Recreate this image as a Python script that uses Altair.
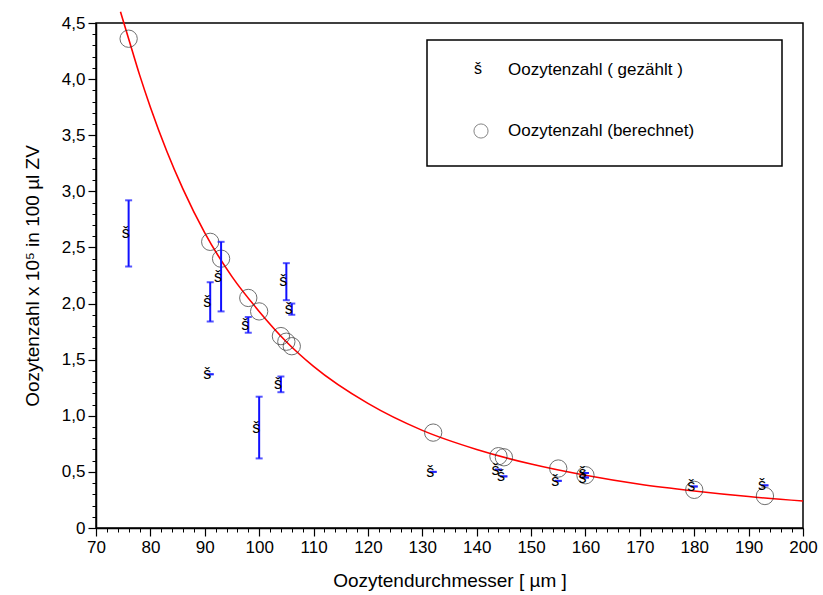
import altair as alt
import pandas as pd

# ---------------- data ----------------
calc_x = [76, 91, 93, 98, 100, 104, 105, 106, 132, 144, 145, 155, 160, 180, 193]
calc_y = [4.36, 2.55, 2.40, 2.05, 1.93, 1.71, 1.66, 1.62, 0.85, 0.64, 0.63, 0.53, 0.47, 0.34, 0.285]

count_x = [76, 91, 91, 93, 98, 100, 104, 105, 106, 132, 144, 145, 155, 160, 160, 180, 193]
count_y = [2.63, 2.01, 1.37, 2.24, 1.81, 0.89, 1.28, 2.20, 1.95, 0.50, 0.52, 0.46, 0.42, 0.49, 0.45, 0.37, 0.38]
count_lo = [2.33, 1.84, 1.37, 1.93, 1.74, 0.62, 1.21, 2.03, 1.90, 0.50, 0.52, 0.46, 0.42, 0.49, 0.45, 0.37, 0.38]
count_hi = [2.92, 2.19, 1.37, 2.55, 1.88, 1.17, 1.35, 2.36, 2.00, 0.50, 0.52, 0.46, 0.42, 0.49, 0.45, 0.37, 0.38]

curve_x = [74.5, 76, 78, 80, 83, 86, 90, 95, 100, 105, 110, 120, 130, 140, 150, 160, 170, 180, 190, 200]
curve_y = [4.60, 4.36, 4.04, 3.75, 3.36, 3.02, 2.63, 2.24, 1.93, 1.66, 1.44, 1.11, 0.87, 0.70, 0.57, 0.47, 0.39, 0.33, 0.28, 0.24]

x_major = list(range(70, 201, 10))
x_minor = list(range(70, 201, 2))
y_major = [0, 0.5, 1.0, 1.5, 2.0, 2.5, 3.0, 3.5, 4.0, 4.5]
y_minor = [round(i * 0.1, 1) for i in range(0, 46)]

legend_labels = ["Oozytenzahl ( gezählt )", "Oozytenzahl (berechnet)"]
x_title = "Oozytendurchmesser [ µm ]"
y_title = "Oozytenzahl x 10⁵ in 100 µl ZV"

# ---------------- tables ----------------
calc_df = pd.DataFrame({"x": calc_x, "y": calc_y})
count_df = pd.DataFrame({"x": count_x, "y": count_y, "lo": count_lo, "hi": count_hi})
curve_df = pd.DataFrame({"x": curve_x, "y": curve_y})

FONT = "Liberation Sans"
W, H = 707, 505

xs = alt.Scale(domain=[70, 200], nice=False, zero=False)
ys = alt.Scale(domain=[0, 4.5], nice=False, zero=True)

x_axis = alt.Axis(
    orient="bottom", values=x_major, tickSize=8, tickWidth=1.2, tickColor="black",
    domainColor="black", domainWidth=1.5, grid=False,
    labelFont=FONT, labelFontSize=17, labelColor="black", labelPadding=3, labelFlush=False,
    format="d",
    title=x_title, titleFont=FONT, titleFontSize=19, titleFontWeight="normal",
    titleColor="black", titleY=52, titleBaseline="middle",
)
y_axis = alt.Axis(
    orient="left", values=y_major, tickSize=8, tickWidth=1.2, tickColor="black",
    domainColor="black", domainWidth=1.5, grid=False,
    labelFont=FONT, labelFontSize=17, labelColor="black", labelPadding=3, labelFlush=False,
    labelExpr="datum.value == 0 ? '0' : replace(format(datum.value, '.1f'), '.', ',')",
    title=y_title, titleFont=FONT, titleFontSize=19, titleFontWeight="normal",
    titleColor="black", titleX=-64, titleY=H / 2, titleAngle=-90,
    titleAlign="center", titleBaseline="middle",
)
x_minor_axis = alt.Axis(
    orient="bottom", values=x_minor, tickSize=4, tickWidth=1, tickColor="black",
    domain=False, labels=False, grid=False, title=None,
)
y_minor_axis = alt.Axis(
    orient="left", values=y_minor, tickSize=4, tickWidth=1, tickColor="black",
    domain=False, labels=False, grid=False, title=None,
)

base_curve = alt.Chart(curve_df)

curve = base_curve.mark_line(color="#ff0000", strokeWidth=1.6, interpolate="monotone").encode(
    x=alt.X("x:Q", scale=xs, axis=x_axis),
    y=alt.Y("y:Q", scale=ys, axis=y_axis),
)

minor = base_curve.mark_line(opacity=0).encode(
    x=alt.X("x:Q", scale=xs, axis=x_minor_axis),
    y=alt.Y("y:Q", scale=ys, axis=y_minor_axis),
)

circles = alt.Chart(calc_df).mark_point(
    shape="circle", size=300, filled=False, stroke="#333333", strokeWidth=1
).encode(
    x=alt.X("x:Q", scale=xs, axis=None),
    y=alt.Y("y:Q", scale=ys, axis=None),
)

bars = alt.Chart(count_df).mark_rule(color="#1010ff", strokeWidth=2).encode(
    x=alt.X("x:Q", scale=xs, axis=None),
    y=alt.Y("lo:Q", scale=ys, axis=None),
    y2="hi:Q",
)
cap_lo = alt.Chart(count_df).mark_point(
    shape="M-1,0L1,0", size=49, filled=False, stroke="#1010ff", strokeWidth=2
).encode(
    x=alt.X("x:Q", scale=xs, axis=None),
    y=alt.Y("lo:Q", scale=ys, axis=None),
)
cap_hi = alt.Chart(count_df).mark_point(
    shape="M-1,0L1,0", size=49, filled=False, stroke="#1010ff", strokeWidth=2
).encode(
    x=alt.X("x:Q", scale=xs, axis=None),
    y=alt.Y("hi:Q", scale=ys, axis=None),
)
glyphs = alt.Chart(count_df).mark_text(
    text="š", font=FONT, fontSize=16, color="black", align="center", baseline="middle", dx=-3
).encode(
    x=alt.X("x:Q", scale=xs, axis=None),
    y=alt.Y("y:Q", scale=ys, axis=None),
)

# ---------------- legend (drawn by hand) ----------------
one = pd.DataFrame({"a": [0]})
leg_box = alt.Chart(one).mark_rect(
    fill="white", stroke="black", strokeWidth=1.5
).encode(x=alt.value(331), x2=alt.value(686), y=alt.value(17), y2=alt.value(143))

leg_text1 = alt.Chart(one).mark_text(
    text=legend_labels[0], font=FONT, fontSize=17, color="black", align="left", baseline="middle"
).encode(x=alt.value(412), y=alt.value(47))
leg_text2 = alt.Chart(one).mark_text(
    text=legend_labels[1], font=FONT, fontSize=17, color="black", align="left", baseline="middle"
).encode(x=alt.value(412), y=alt.value(108))
leg_sym1 = alt.Chart(one).mark_text(
    text="š", font=FONT, fontSize=16, color="black", align="center", baseline="middle"
).encode(x=alt.value(382), y=alt.value(46))
leg_sym2 = alt.Chart(one).mark_point(
    shape="circle", size=200, filled=False, stroke="#555555", strokeWidth=1
).encode(x=alt.value(385), y=alt.value(108))

chart = alt.layer(
    curve, minor, circles, bars, cap_lo, cap_hi, glyphs,
    leg_box, leg_text1, leg_text2, leg_sym1, leg_sym2,
).resolve_axis(x="independent", y="independent").properties(
    width=W, height=H,
    autosize=alt.AutoSizeParams(type="none"),
    padding={"left": 96, "top": 23, "right": 20, "bottom": 67},
    background="white",
).configure_view(stroke="black", strokeWidth=1.5)

chart.save("out.html", embed_options={"renderer": "svg", "actions": False})
